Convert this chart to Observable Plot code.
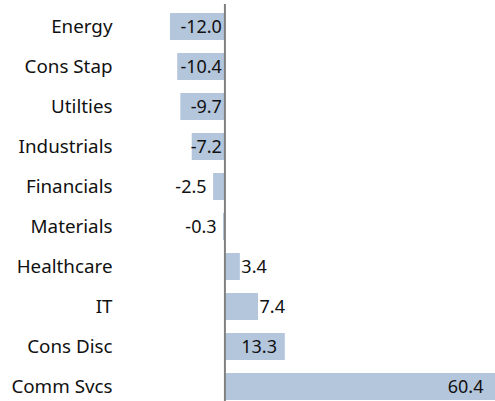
<!DOCTYPE html>
<html>
<head>
<meta charset="utf-8">
<script src="https://cdn.jsdelivr.net/npm/d3@7"></script>
<script src="https://cdn.jsdelivr.net/npm/@observablehq/plot@0.6"></script>
<style>
  html, body { margin: 0; padding: 0; background: #fff; }
  #chart svg { display: block; }
</style>
</head>
<body>
<div id="chart"></div>
<script>
const categories = ["Energy", "Cons Stap", "Utilties", "Industrials", "Financials", "Materials", "Healthcare", "IT", "Cons Disc", "Comm Svcs"];
const values = [-12.0, -10.4, -9.7, -7.2, -2.5, -0.3, 3.4, 7.4, 13.3, 60.4];

const data = categories.map((c, i) => ({category: c, value: values[i], label: values[i].toFixed(1)}));
const xDomain = [-23.0, 59.6];
const font = "'Noto Sans', 'Open Sans', sans-serif";
const fs = 18;
const axisFs = 18.8;

const chart = Plot.plot({
  width: 495,
  height: 401,
  marginLeft: 120,
  marginRight: 0,
  marginTop: 4,
  marginBottom: 0,
  style: {fontFamily: font, fontSize: fs + "px", color: "#111", background: "#fff"},
  x: {domain: xDomain, axis: null},
  y: {domain: categories, range: [11, 401], paddingInner: 0.335, paddingOuter: 0, axis: null},
  marks: [
    Plot.barX(data, {x: "value", y: "category", fill: "#b4c6dc", clip: true}),
    Plot.ruleX([0], {stroke: "#808080", strokeWidth: 2}),
    Plot.axisY({tickSize: 0, tickPadding: 8, label: null, fontSize: axisFs}),
    // negative, label fits inside: right-aligned near the zero line
    Plot.text(data.filter(d => d.value <= -5), {x: 0, y: "category", text: "label", textAnchor: "end", dx: -3, fontSize: fs}),
    // negative, small: outside left of bar end
    Plot.text(data.filter(d => d.value > -5 && d.value < 0), {x: "value", y: "category", text: "label", textAnchor: "end", dx: -7, fontSize: fs}),
    // positive small: just right of bar end
    Plot.text(data.filter(d => d.value > 0 && d.value < 10), {x: "value", y: "category", text: "label", textAnchor: "start", dx: 1, fontSize: fs}),
    // positive medium: centred inside bar
    Plot.text(data.filter(d => d.value >= 10 && d.value < 30), {x: d => d.value / 2, y: "category", text: "label", textAnchor: "middle", dx: 4, fontSize: fs}),
    // positive large: inside end of the visible area
    Plot.text(data.filter(d => d.value >= 30), {x: () => xDomain[1], y: "category", text: "label", textAnchor: "end", dx: -12, fontSize: fs})
  ]
});
document.getElementById("chart").appendChild(chart);
</script>
</body>
</html>
